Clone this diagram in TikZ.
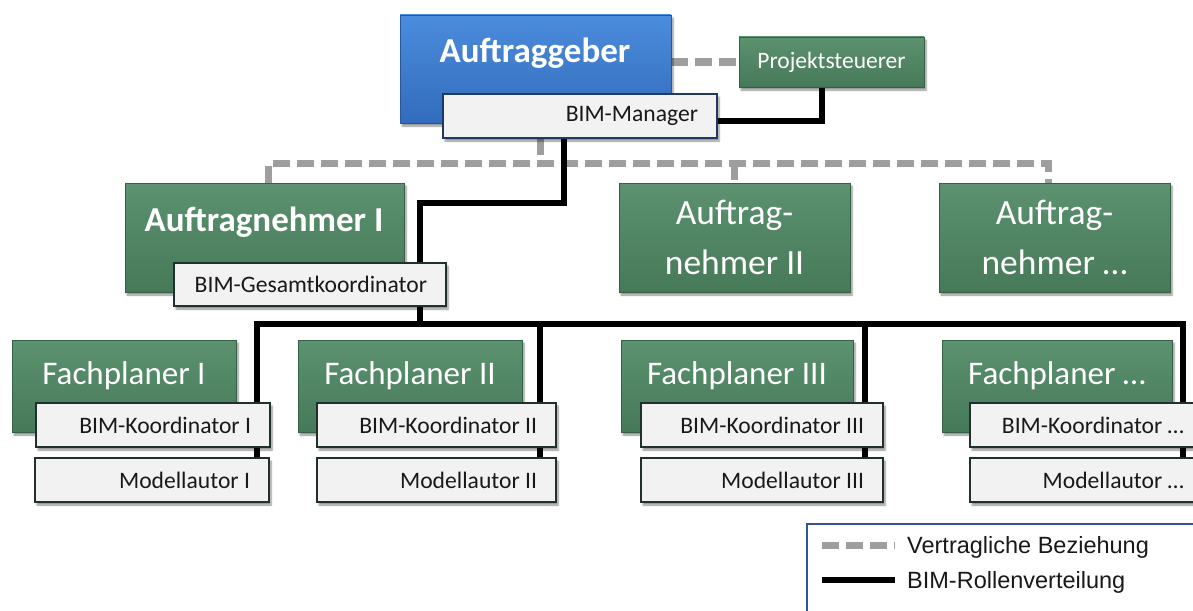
\documentclass[tikz,border=0pt]{standalone}
\usepackage{fontspec}
\setmainfont{Carlito}
\newfontfamily\legendfont{Liberation Sans}
\usetikzlibrary{shadows.blur,backgrounds}
\definecolor{gbox}{RGB}{70,121,88}
\definecolor{gtop}{RGB}{92,146,112}
\definecolor{gedge}{RGB}{52,96,68}
\definecolor{btop}{RGB}{76,140,220}
\definecolor{bbot}{RGB}{50,108,188}
\definecolor{bedge}{RGB}{38,88,158}
\definecolor{panelgray}{RGB}{217,217,217}
\definecolor{rolefill}{RGB}{242,242,242}
\definecolor{roleedge}{RGB}{32,48,44}
\definecolor{mgredge}{RGB}{31,56,100}
\definecolor{dashgray}{RGB}{158,158,158}
\definecolor{legedge}{RGB}{47,85,151}
\begin{document}
\begin{tikzpicture}[x=1pt,y=-1pt,
  box/.style={anchor=north west, inner sep=0pt, outer sep=0pt},
  shad/.style={blur shadow={shadow xshift=2pt, shadow yshift=-3pt, shadow opacity=45, shadow blur steps=6}},
  greenbox/.style={box, shad, draw=gedge, line width=0.8pt, top color=gtop, bottom color=gbox},
  bluebox/.style={box, shad, draw=bedge, line width=0.8pt, top color=btop, bottom color=bbot},
  rolebox/.style={box, shad, draw=roleedge, line width=1.3pt, fill=rolefill, inner xsep=19pt, inner ysep=0pt, minimum height=44pt, align=flush right, font=\fontsize{23.6}{28}\selectfont, text=black!90},
  boldtext/.style={text=white, font=\bfseries\fontsize{35}{42}\selectfont, inner sep=0pt},
  fptext/.style={text=white, font=\fontsize{33}{40}\selectfont, inner sep=0pt},
  contract/.style={draw=dashgray, line width=7pt, dash pattern=on 17pt off 7pt},
  rolel/.style={draw=black, line width=6pt, line join=miter},
  legtext/.style={anchor=west, inner sep=0pt, font=\legendfont\fontsize{23.5}{28}\selectfont, text=black!90}
]
\useasboundingbox (0,0) rectangle (1193,610);
% grey panels
\begin{scope}[on background layer]
  \fill[panelgray] (12,183) rectangle (555,510);
  \fill[panelgray] (622,183) rectangle (884,510);
  \fill[panelgray] (942,183) rectangle (1193,510);
\end{scope}

% top level
\node[bluebox, minimum width=271pt, minimum height=108pt] (ag) at (400,15) {};
\node[boldtext] (agt) at (535,53) {Auftraggeber};
\node[rolebox, draw=mgredge, text width=236pt] (bm) at (443,94) {BIM-Manager};
\node[greenbox, minimum width=185pt, minimum height=50pt, text=white, font=\fontsize{23.5}{28}\selectfont] (ps) at (739,37) {Projektsteuerer};

% Auftragnehmer
\node[greenbox, minimum width=279pt, minimum height=109pt] (an1) at (125,183) {};
\node[boldtext] (an1t) at (264,222) {Auftragnehmer I};
\node[rolebox, text width=234pt, minimum height=43pt] (bg) at (174,263) {BIM-Gesamtkoordinator};
\node[greenbox, minimum width=231pt, minimum height=109pt, text=white, align=center, font=\fontsize{35.5}{50}\selectfont] (an2) at (619,183) {Auftrag-\\nehmer II};
\node[greenbox, minimum width=231pt, minimum height=109pt, text=white, align=center, font=\fontsize{35.5}{50}\selectfont] (an3) at (939,183) {Auftrag-\\nehmer \dots};

% Fachplaner
\node[greenbox, minimum width=224pt, minimum height=92pt] (fp1) at (12,340) {};
\node[fptext] (fp1t) at (124,376) {Fachplaner I};
\node[rolebox, text width=196pt] (bk1) at (36,403) {BIM-Koordinator I};
\node[rolebox, text width=196pt] (ma1) at (35,458) {Modellautor I};

\node[greenbox, minimum width=224pt, minimum height=92pt] (fp2) at (298,340) {};
\node[fptext] (fp2t) at (410,376) {Fachplaner II};
\node[rolebox, text width=201pt] (bk2) at (317,403) {BIM-Koordinator II};
\node[rolebox, text width=201pt] (ma2) at (317,458) {Modellautor II};

\node[greenbox, minimum width=232pt, minimum height=92pt] (fp3) at (621,340) {};
\node[fptext] (fp3t) at (737,376) {Fachplaner III};
\node[rolebox, text width=204pt] (bk3) at (641,403) {BIM-Koordinator III};
\node[rolebox, text width=204pt] (ma3) at (641,458) {Modellautor III};

\node[greenbox, minimum width=230pt, minimum height=92pt] (fp4) at (942,340) {};
\node[fptext] (fp4t) at (1057,376) {Fachplaner \dots};
\node[rolebox, text width=195pt] (bk4) at (970,403) {BIM-Koordinator \dots};
\node[rolebox, text width=195pt] (ma4) at (970,458) {Modellautor \dots};

% legend
\node[box, draw=legedge, line width=1.3pt, fill=white, minimum width=420pt, minimum height=110pt] (leg) at (807,524) {};
\coordinate (l1a) at (822,545);
\coordinate (l1b) at (895,545);
\coordinate (l2a) at (822,580);
\coordinate (l2b) at (895,580);
\draw[contract] (l1a) -- (l1b);
\draw[rolel] (l2a) -- (l2b);
\node[legtext] (l1t) at (907,547) {Vertragliche Beziehung};
\node[legtext] (l2t) at (907,582) {BIM-Rollenverteilung};

% connectors (behind boxes, above panels)
\begin{scope}[on background layer]
  \coordinate (busg) at (540,163);
  \draw[contract] (ag.east |- ps.west) -- (ps.west);
  \draw[contract] ([xshift=4pt]an1.north) |- (busg) -| ([xshift=-6pt]an3.north);
  \draw[contract] (busg |- bm.south) -- (busg);
  \draw[contract] (an2.north |- busg) -- (an2.north);

  \coordinate (rb) at (822,121);
  \draw[rolel] (bm.east |- rb) -| (rb |- ps.south);
  \coordinate (j1) at (564,203);
  \coordinate (j2) at (420,203);
  \draw[rolel] (j1 |- bm.south) -- (j1) -- (j2) -- (j2 |- bg.north);
  \coordinate (j3) at (420,324);
  \draw[rolel] (j3 |- bg.south) -- (j3);
  \coordinate (v1) at (257,324);
  \coordinate (v2) at (540,324);
  \coordinate (v3) at (865,324);
  \coordinate (v4) at (1183,324);
  \draw[rolel] (v1 |- ma1.north) -- (v1) -- (v4) -- (v4 |- ma4.north);
  \draw[rolel] (v2) -- (v2 |- ma2.north);
  \draw[rolel] (v3) -- (v3 |- ma3.north);
\end{scope}
\end{tikzpicture}
\end{document}
